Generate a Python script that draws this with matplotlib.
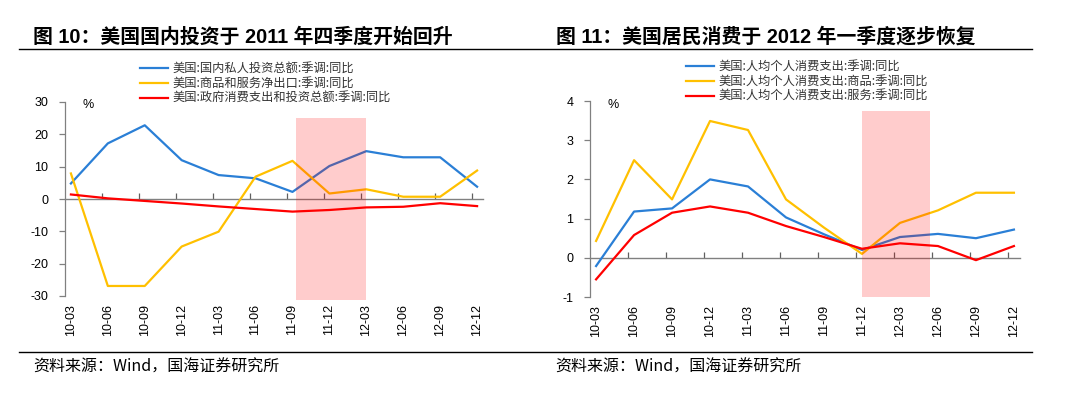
import matplotlib
matplotlib.use("Agg")
import matplotlib.pyplot as plt
from matplotlib import transforms
from matplotlib.lines import Line2D

plt.rcParams['font.family'] = ['Liberation Sans', 'Noto Sans CJK SC', 'DejaVu Sans']

# ---------------- data ----------------
quarters = ["10-03", "10-06", "10-09", "10-12", "11-03", "11-06",
            "11-09", "11-12", "12-03", "12-06", "12-09", "12-12"]

inv_private = [4.8, 17.2, 22.8, 12.0, 7.4, 6.4, 2.2, 10.2, 14.8, 12.9, 12.9, 3.8]
inv_netexport = [7.9, -26.9, -26.9, -14.7, -10.1, 6.9, 11.8, 1.7, 3.0, 0.7, 0.7, 8.8]
inv_gov = [1.4, 0.2, -0.6, -1.4, -2.3, -3.1, -3.9, -3.4, -2.6, -2.4, -1.3, -2.2]
left_names = ["美国:国内私人投资总额:季调:同比",
              "美国:商品和服务净出口:季调:同比",
              "美国:政府消费支出和投资总额:季调:同比"]

pce_total = [-0.21, 1.18, 1.26, 2.0, 1.82, 1.03, 0.6, 0.2, 0.53, 0.61, 0.5, 0.72]
pce_goods = [0.43, 2.49, 1.49, 3.49, 3.26, 1.49, 0.77, 0.1, 0.89, 1.21, 1.66, 1.66]
pce_services = [-0.55, 0.58, 1.15, 1.31, 1.15, 0.81, 0.53, 0.23, 0.37, 0.3, -0.06, 0.3]
right_names = ["美国:人均个人消费支出:季调:同比",
               "美国:人均个人消费支出:商品:季调:同比",
               "美国:人均个人消费支出:服务:季调:同比"]

left_yticks = [-30, -20, -10, 0, 10, 20, 30]
right_yticks = [-1, 0, 1, 2, 3, 4]

left_shade = (6.1, 8.0, -31.2, 25.0)
right_shade = (7.0, 8.8, -1.0, 3.75)

title_left = "图 10：美国国内投资于 2011 年四季度开始回升"
title_right = "图 11：美国居民消费于 2012 年一季度逐步恢复"
source = "资料来源：Wind，国海证券研究所"

colors = ["#2a7fd6", "#ffc000", "#ff0000"]

W, H = 1073, 398
fig = plt.figure(figsize=(W / 100, H / 100), dpi=100)


def px_axes(x0, y_top, x1, y_bot):
    return fig.add_axes([x0 / W, 1 - y_bot / H, (x1 - x0) / W, (y_bot - y_top) / H])


def style_axes(ax, series, ylim, yticks, shade, names, legend_x, legend_y0, pct_xy):
    x = list(range(len(quarters)))
    for s, c in zip(series, colors):
        ax.plot(x, s, color=c, lw=1.6, zorder=3, solid_joinstyle='round')
    ax.set_xlim(-0.16, len(quarters) - 1 + 0.16)
    ax.set_ylim(*ylim)
    # shade
    xs0, xs1, ys0, ys1 = shade
    ax.fill_between([xs0, xs1], [ys0, ys0], [ys1, ys1], color="#ff0000",
                    alpha=0.2, lw=0, zorder=5, clip_on=False)
    # spines
    for sp in ['top', 'right']:
        ax.spines[sp].set_visible(False)
    ax.spines['left'].set_color('#808080')
    ax.spines['left'].set_linewidth(0.9)
    ax.spines['bottom'].set_position(('data', 0))
    ax.spines['bottom'].set_color('#808080')
    ax.spines['bottom'].set_linewidth(1.0)
    ax.set_yticks(yticks)
    ax.set_yticklabels([str(v) for v in yticks])
    ax.tick_params(axis='y', direction='out', length=4, width=0.9,
                   color='#808080', labelsize=9, pad=8)
    ax.set_xticks([i - 0.15 for i in range(1, len(quarters))])
    ax.tick_params(axis='x', direction='in', length=4, width=0.9,
                   color='#606060', labelbottom=False)
    # x labels at bottom of axes
    trans = transforms.blended_transform_factory(ax.transData, ax.transAxes)
    trans = trans + transforms.ScaledTranslation(0, -8 / 100, fig.dpi_scale_trans)
    for i, q in enumerate(quarters):
        ax.text(i, 0, q, transform=trans, rotation=90, ha='center', va='top',
                fontsize=9, color='black')
    # percent label
    fig.text(pct_xy[0] / W, 1 - pct_xy[1] / H, "%", fontsize=9,
             ha='center', va='center')
    # legend
    for k, (nm, c) in enumerate(zip(names, colors)):
        yy = 1 - (legend_y0 + 14.8 * k) / H
        fig.add_artist(Line2D([legend_x / W, (legend_x + 28) / W], [yy, yy],
                              color=c, lw=1.6))
        fig.text((legend_x + 32) / W, yy, nm, fontsize=8.8, va='center',
                 ha='left', color='#333333', family=['Noto Sans CJK SC'])


axL = px_axes(65, 102, 483, 296)
style_axes(axL, [inv_private, inv_netexport, inv_gov], (-30, 30), left_yticks,
           left_shade, left_names, 140, 68, (88, 105))

axR = px_axes(590, 101, 1020, 297)
style_axes(axR, [pce_total, pce_goods, pce_services], (-1, 4), right_yticks,
           right_shade, right_names, 686, 66, (613, 105))

# titles
fig.text(33 / W, 1 - 37 / H, title_left, fontsize=14.3, fontweight='bold',
         ha='left', va='center')
fig.text(556 / W, 1 - 37 / H, title_right, fontsize=14.3, fontweight='bold',
         ha='left', va='center')

# separator lines
fig.add_artist(Line2D([19 / W, 1032 / W], [1 - 49 / H, 1 - 49 / H], color='black', lw=1.0))
fig.add_artist(Line2D([19 / W, 1032 / W], [1 - 352 / H, 1 - 352 / H], color='black', lw=1.0))

# source
fig.text(33 / W, 1 - 367 / H, source, fontsize=11.5, ha='left', va='center',
         family=['Noto Sans CJK SC'])
fig.text(555 / W, 1 - 367 / H, source, fontsize=11.5, ha='left', va='center',
         family=['Noto Sans CJK SC'])

fig.savefig("out.png", dpi=100)
